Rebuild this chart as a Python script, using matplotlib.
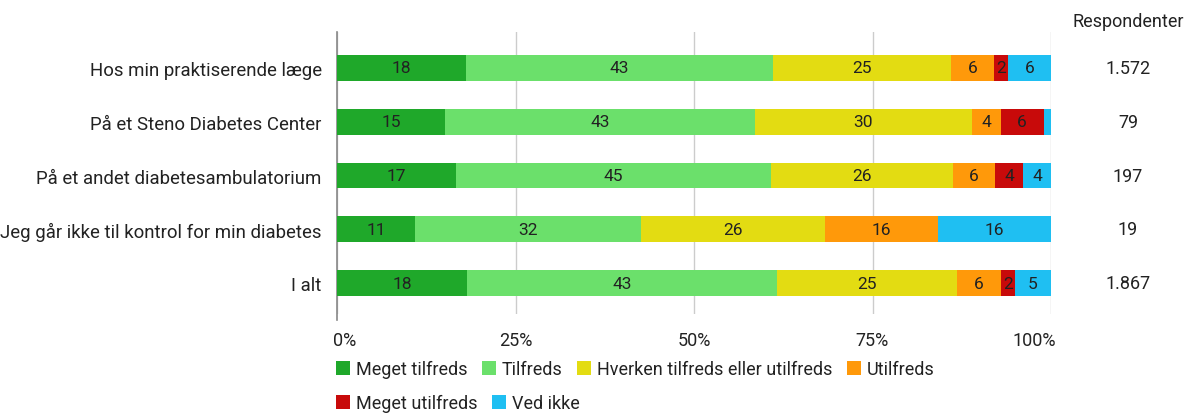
import numpy as np
import matplotlib
matplotlib.use('Agg')
import matplotlib.pyplot as plt
import matplotlib.transforms as mtransforms
from matplotlib.patches import Patch

plt.rcParams['font.family'] = ['Roboto', 'DejaVu Sans']

places = [
    'Hos min praktiserende læge',
    'På et Steno Diabetes Center',
    'På et andet diabetesambulatorium',
    'Jeg går ikke til kontrol for min diabetes',
    'I alt',
]
respondents = ['1.572', '79', '197', '19', '1.867']

answers = ['Meget tilfreds', 'Tilfreds', 'Hverken tilfreds eller utilfreds',
           'Utilfreds', 'Meget utilfreds', 'Ved ikke']
colors = ['#1fa82a', '#6be06b', '#e3dc12', '#ff990a', '#c80a0a', '#1fbff2']

# percent per answer, one list per row of places
meget_tilfreds = [18, 15, 17, 11, 18]
tilfreds = [43, 43, 45, 32, 43]
hverken = [25, 30, 26, 26, 25]
utilfreds = [6, 4, 6, 16, 6]
meget_utilfreds = [2, 6, 4, 0, 2]
ved_ikke = [6, 1, 4, 16, 5]

values = np.array([meget_tilfreds, tilfreds, hverken, utilfreds,
                   meget_utilfreds, ved_ikke], dtype=float)
shares = values / values.sum(axis=0) * 100

TEXT = '#222222'
FS = 13

fig = plt.figure(figsize=(11.86, 4.14), dpi=100)
ax = fig.add_axes([337 / 1186, 1 - 315 / 414, 714 / 1186, 282 / 414])

y = np.arange(len(places))
left = np.zeros(len(places))
for i, answer in enumerate(answers):
    ax.barh(y, shares[i], left=left, height=0.48, color=colors[i],
            label=answer, zorder=3)
    for j in range(len(places)):
        if values[i, j] >= 2:
            ax.text(left[j] + shares[i, j] / 2, y[j], f'{values[i, j]:.0f}',
                    ha='center', va='center', fontsize=12.5, color=TEXT,
                    zorder=4)
    left += shares[i]

ax.set_xlim(0, 100)
ax.set_ylim(4.574, -0.667)
ax.set_yticks(y)
ax.set_yticklabels(places, fontsize=13.4, color=TEXT)
ax.tick_params(axis='y', length=0, pad=11)

ax.set_xticks([0, 25, 50, 75, 100])
ax.set_xticklabels(['0%', '25%', '50%', '75%', '100%'], fontsize=FS,
                   color=TEXT)
ax.tick_params(axis='x', length=0, pad=12)
xlabels = ax.get_xticklabels()
xlabels[0].set_ha('left')
xlabels[0].set_transform(xlabels[0].get_transform() +
                         mtransforms.ScaledTranslation(-4 / 100, 0,
                                                       fig.dpi_scale_trans))
xlabels[-1].set_ha('right')
xlabels[-1].set_transform(xlabels[-1].get_transform() +
                          mtransforms.ScaledTranslation(5 / 100, 0,
                                                        fig.dpi_scale_trans))
ax.grid(axis='x', color='#cccccc', linewidth=1, zorder=0)
# darker baseline at 0%
ax.axvline(0, ymin=-0.02, ymax=1, color='#888888', linewidth=1.2,
           zorder=2, clip_on=False)
for spine in ax.spines.values():
    spine.set_visible(False)

# respondent counts to the right of the bars
fig.text(1128 / 1186, 1 - 22 / 414, 'Respondenter', ha='center', va='center',
         fontsize=FS, color=TEXT)
count_trans = mtransforms.blended_transform_factory(fig.transFigure,
                                                    ax.transData)
for j, n in enumerate(respondents):
    ax.text(1128 / 1186, y[j], n, transform=count_trans, ha='center',
            va='center', fontsize=FS, color=TEXT)

handles = [Patch(facecolor=c, edgecolor='none') for c in colors]
leg_kw = dict(frameon=False, fontsize=FS, handlelength=0.8, handleheight=0.8,
              handletextpad=0.3, columnspacing=0.8, borderaxespad=0,
              borderpad=0, labelcolor=TEXT)
fig.legend(handles[:4], answers[:4], ncol=4, loc='center left',
           bbox_to_anchor=(336 / 1186, 1 - 370 / 414), **leg_kw)
fig.legend(handles[4:], answers[4:], ncol=2, loc='center left',
           bbox_to_anchor=(336 / 1186, 1 - 404 / 414), **leg_kw)

fig.savefig('out.png', dpi=100, facecolor='white')
